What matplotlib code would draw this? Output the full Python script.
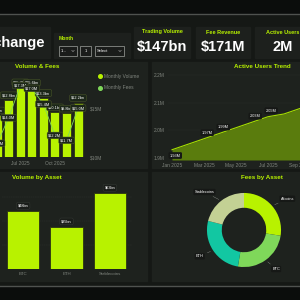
import numpy as np
import matplotlib
matplotlib.use('Agg')
import matplotlib.pyplot as plt
from matplotlib.patches import Rectangle
from matplotlib.lines import Line2D

plt.rcParams['font.family'] = ['Liberation Sans', 'DejaVu Sans']

# data
months = ['Jan 2025', 'Feb 2025', 'Mar 2025', 'Apr 2025', 'May 2025', 'Jun 2025',
          'Jul 2025', 'Aug 2025', 'Sep 2025', 'Oct 2025', 'Nov 2025', 'Dec 2025']
monthly_volume = [11.6, 12.3, 11.9, 12.3, 9.4, 12.8, 15.7, 15.6, 13.3, 10.1, 9.8, 12.2]   # $bn
monthly_fees = [14.5, 13.8, 14.2, 14.5, 11.4, 14.0, 17.3, 17.0, 15.4, 12.2, 11.7, 15.0]   # $M
active_users = [1.93, 1.95, 1.97, 1.99, 2.01, 2.03, 2.05, 2.06, 2.08, 2.10, 2.12, 2.13]   # M
users_labelled = [0, 2, 3, 5, 6]
assets = ['BTC', 'ETH', 'Stablecoins']
asset_volume = [48, 35, 63]   # $bn
fee_assets = ['Altcoins', 'BTC', 'ETH', 'Stablecoins']
asset_fees = [47, 43, 45, 36]   # $M
kpi_titles = ['Trading Volume', 'Fee Revenue', 'Active Users']
kpi_values = ['$147bn', '$171M', '2M']

LIME = '#b8f200'
GREEN = '#7fd85a'
TEAL = '#12c7a2'
SAGE = '#c3d194'
PANEL = '#1e221e'
BG = '#151815'
GRAY = '#80857e'
pie_colors = [LIME, GREEN, TEAL, SAGE]

W = H = 300.0


def box(x0, y0, x1, y1):
    return [x0 / W, 1 - y1 / H, (x1 - x0) / W, (y1 - y0) / H]


def tag(ax, x, y, s, fc='#1c2619', ec='#55632c', **kw):
    ax.text(x, y, s, color='white', fontsize=2.8, ha='center', zorder=5,
            bbox=dict(boxstyle='round,pad=0.35', fc=fc, ec=ec, lw=0.3), **kw)


fig = plt.figure(figsize=(3, 3), dpi=100, facecolor=BG)
bg = fig.add_axes([0, 0, 1, 1])
bg.set_xlim(0, W)
bg.set_ylim(H, 0)
bg.axis('off')

# frame bands
bg.add_patch(Rectangle((0, 0), 300, 13.5, color='#0b0d0c'))
bg.plot([0, 300], [14.2, 14.2], color='#4f524f', lw=1.0)
bg.add_patch(Rectangle((0, 286.5), 300, 14, color='#0b0d0c'))
bg.plot([0, 300], [286, 286], color='#4f524f', lw=1.0)

# cards
for x0, y0, x1, y1 in [(-5, 27, 50, 58), (54, 33, 130, 58), (134, 27, 190, 58),
                       (196, 27, 250, 58), (255, 27, 310, 58)]:
    bg.add_patch(Rectangle((x0, y0), x1 - x0, y1 - y0, color='#1d201d'))
for x0, y0, x1, y1 in [(-5, 62, 147, 168), (152, 62, 310, 168),
                       (-5, 172, 147, 281), (152, 172, 310, 281)]:
    bg.add_patch(Rectangle((x0, y0), x1 - x0, y1 - y0, color=PANEL))

bg.text(45, 43, 'Crypto Exchange', color='white', fontsize=10.5, fontweight='bold',
        ha='right', va='center')

# month filter
bg.text(59, 39, 'Month', color=LIME, fontsize=3.6, fontweight='bold', ha='left', va='center')
for (x0, x1), s in zip([(59, 77), (80, 91), (95, 124)], ['1…', '1', 'Select']):
    bg.add_patch(Rectangle((x0, 46), x1 - x0, 10, fc='#1a1c1a', ec='#8a8d88', lw=0.6))
    bg.text(x0 + 2 if s != '1' else (x0 + x1) / 2, 51, s, color='white', fontsize=3,
            ha='left' if s != '1' else 'center', va='center')
    if s != '1':
        cx = x1 - 4
        bg.plot([cx - 1.2, cx, cx + 1.2], [50.4, 51.6, 50.4], color='#aaaaaa', lw=0.4)

# KPIs
for cx, t, v in zip([162, 223, 283], kpi_titles, kpi_values):
    bg.text(cx, 32, t, color=LIME, fontsize=4, fontweight='bold', ha='center', va='center')
    bg.text(cx, 47, v, color='white', fontsize=10.5, fontweight='bold', ha='center', va='center')

# panel titles
for x, y, t in [(37, 67, 'Volume & Fees'), (262, 67, 'Active Users Trend'),
                (37, 178, 'Volume by Asset'), (262, 178, 'Fees by Asset')]:
    bg.text(x, y, t, color=LIME, fontsize=4.5, fontweight='bold', ha='center', va='center')

# Volume & Fees
x = np.arange(len(months))
ax = fig.add_axes(box(-56, 75, 85, 157))
ax.set_facecolor('none')
ax.bar(x, monthly_volume, width=0.78, color=LIME, edgecolor='#2b3312', lw=0.6)
ax.set_xlim(-0.6, 11.6)
ax.set_ylim(0, 18.4)
ax.set_yticks([])
ax.set_xticks([0, 3, 6, 9])
ax.set_xticklabels([months[i] for i in [0, 3, 6, 9]])
ax.tick_params(axis='x', length=0, pad=2.8, labelsize=3.5, labelcolor=GRAY)
for s in ax.spines.values():
    s.set_visible(False)
for i, v in enumerate(monthly_volume):
    tag(ax, i, v + 0.6, f'${v}bn', va='bottom')
ax2 = ax.twinx()
ax2.plot(x, monthly_fees, color=GREEN, lw=0.6)
ax2.set_ylim(10, 18.37)
ax2.set_yticks([10, 15])
ax2.set_yticklabels(['$10M', '$15M'])
ax2.tick_params(axis='y', length=0, pad=3.5, labelsize=3.5, labelcolor=GRAY)
for s in ax2.spines.values():
    s.set_visible(False)
for i, v in enumerate(monthly_fees):
    tag(ax2, i, v, f'${v}M', va='center')
fig.legend(handles=[Line2D([], [], marker='o', ls='', color=LIME, ms=2.6, label='Monthly Volume'),
                    Line2D([], [], marker='o', ls='', color=GREEN, ms=2.6, label='Monthly Fees')],
           loc='upper left', bbox_to_anchor=(96 / W, 1 - 72 / H), frameon=False,
           fontsize=3.5, labelcolor=GRAY, handletextpad=0.2, labelspacing=1.3,
           borderaxespad=0, handlelength=1)

# Active Users Trend
ax3 = fig.add_axes(box(168, 68, 352, 160))
ax3.set_facecolor('none')
ylo = 1.8927
ax3.fill_between(x, active_users, ylo, color='#5a7c0d', lw=0)
ax3.plot(x, active_users, color='#a6e000', lw=0.8)
ax3.set_xlim(-0.25, 11.25)
ax3.set_ylim(ylo, 2.227)
ax3.set_yticks([1.9, 2.0, 2.1, 2.2])
ax3.set_yticklabels(['1.9M', '2.0M', '2.1M', '2.2M'])
ax3.set_xticks([0, 2, 4, 6, 8, 10])
ax3.set_xticklabels([months[i] for i in [0, 2, 4, 6, 8, 10]])
ax3.tick_params(length=0, labelsize=3.5, labelcolor=GRAY, pad=2.5)
ax3.grid(axis='y', color='#2c302c', lw=0.3)
ax3.set_axisbelow(True)
for s in ax3.spines.values():
    s.set_visible(False)
for i in users_labelled:
    off = -0.021 if i == 0 else 0.022
    tag(ax3, i + 0.2, active_users[i] + off, f'{active_users[i]:.2f}M',
        fc='#161816', ec='none', va='center')

# Volume by Asset
ax4 = fig.add_axes(box(1.5, 185, 131.5, 269))
ax4.set_facecolor('none')
ax4.bar(np.arange(len(assets)), asset_volume, width=0.75, color=LIME,
        edgecolor='#2b3312', lw=0.6, zorder=3)
ax4.set_xlim(-0.5, 2.5)
ax4.set_ylim(0, 70)
ax4.set_yticks([20, 40, 60])
ax4.set_yticklabels([])
ax4.set_xticks(np.arange(len(assets)))
ax4.set_xticklabels(assets)
ax4.tick_params(length=0, labelsize=3.2, labelcolor=GRAY, pad=2.5)
ax4.grid(axis='y', color='#303430', lw=0.3, ls='--')
for s in ax4.spines.values():
    s.set_visible(False)
for i, v in enumerate(asset_volume):
    tag(ax4, i, v + 3, f'${v}bn', fc='#1a1d1a', ec='#3a3f3a', va='bottom')

# Fees by Asset
ax5 = fig.add_axes(box(184, 170, 304, 290))
ax5.set_facecolor('none')
wedges, _ = ax5.pie(asset_fees, colors=pie_colors, startangle=90, counterclock=False,
                    radius=1, wedgeprops=dict(width=0.4, edgecolor='none'))
ax5.set_xlim(-1.62, 1.62)
ax5.set_ylim(-1.62, 1.62)
ax5.set_aspect('equal')
for w, name in zip(wedges, fee_assets):
    a = np.deg2rad((w.theta1 + w.theta2) / 2)
    c, s = np.cos(a), np.sin(a)
    ax5.annotate(name, xy=(1.0 * c, 1.0 * s), xytext=(1.3 * c, 1.3 * s),
                 ha='left' if c > 0 else 'right', va='center', color='white', fontsize=2.8,
                 bbox=dict(boxstyle='round,pad=0.3', fc='#161816', ec='none'),
                 arrowprops=dict(arrowstyle='-', color='#8a8d88', lw=0.3))

fig.savefig('out.png', dpi=100, facecolor=BG)
